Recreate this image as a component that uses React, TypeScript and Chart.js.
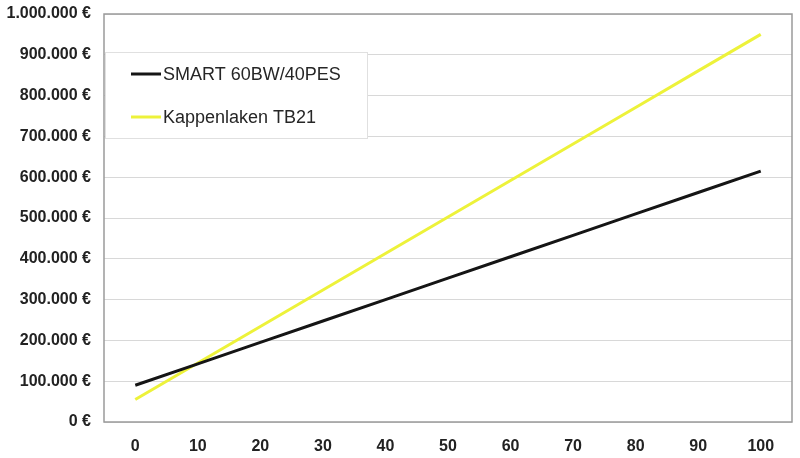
import React, { useEffect, useRef } from "react";
import { Chart, registerables } from "chart.js";

Chart.register(...registerables);

const categories = ["0", "10", "20", "30", "40", "50", "60", "70", "80", "90", "100"];
const smartValues = [90000, 142500, 195000, 247500, 300000, 352500, 405000, 457500, 510000, 562500, 615000];
const kappenValues = [55000, 144500, 234000, 323500, 413000, 502500, 592000, 681500, 771000, 860500, 950000];
const seriesNames = ["SMART 60BW/40PES", "Kappenlaken TB21"];
const seriesColors = ["#151515", "#edf23a"];

function formatEuro(v: number): string {
  const s = Math.round(v).toString().replace(/\B(?=(\d{3})+(?!\d))/g, ".");
  return s + " €";
}

const framePlugin = {
  id: "frameAndLegend",
  afterDraw(chart: any) {
    const { ctx, chartArea } = chart;
    ctx.save();
    // plot border
    ctx.strokeStyle = "#9a9a9a";
    ctx.lineWidth = 1.5;
    ctx.strokeRect(chartArea.left, chartArea.top, chartArea.right - chartArea.left, chartArea.bottom - chartArea.top);
    // legend box
    const bx = chartArea.left + 1.5;
    const by = 52.5;
    const bw = 262;
    const bh = 86;
    ctx.fillStyle = "#ffffff";
    ctx.fillRect(bx, by, bw, bh);
    ctx.strokeStyle = "#e0e0e0";
    ctx.lineWidth = 1;
    ctx.strokeRect(bx, by, bw, bh);
    ctx.font = "18px 'Liberation Sans', Arial, sans-serif";
    ctx.textBaseline = "middle";
    ctx.textAlign = "left";
    chart.data.datasets.forEach((ds: any, i: number) => {
      const y = 74 + i * 43;
      ctx.strokeStyle = ds.borderColor;
      ctx.lineWidth = 3;
      ctx.beginPath();
      ctx.moveTo(131, y);
      ctx.lineTo(161, y);
      ctx.stroke();
      ctx.fillStyle = "#262626";
      ctx.fillText(ds.label, 163, y + 1);
    });
    ctx.restore();
  },
};

export default function App() {
  const ref = useRef<HTMLCanvasElement>(null);
  useEffect(() => {
    if (!ref.current) return;
    const chart = new Chart(ref.current, {
      type: "line",
      data: {
        labels: categories,
        datasets: [
          {
            label: seriesNames[0],
            data: smartValues,
            borderColor: seriesColors[0],
            backgroundColor: seriesColors[0],
            borderWidth: 3,
            pointRadius: 0,
            tension: 0,
          },
          {
            label: seriesNames[1],
            data: kappenValues,
            borderColor: seriesColors[1],
            backgroundColor: seriesColors[1],
            borderWidth: 3,
            pointRadius: 0,
            tension: 0,
          },
        ],
      },
      options: {
        animation: false,
        responsive: false,
        layout: { padding: { top: 14, right: 8, left: 0, bottom: 0 } },
        plugins: { legend: { display: false }, tooltip: { enabled: false } },
        scales: {
          x: {
            type: "category",
            offset: true,
            grid: { display: false, drawTicks: false },
            border: { display: false },
            ticks: {
              padding: 15,
              color: "#222",
              font: { family: "'Liberation Sans', Arial, sans-serif", size: 16, weight: "bold" },
              maxRotation: 0,
              autoSkip: false,
            },
            afterFit(scale: any) {
              scale.height = 36;
              scale.paddingLeft = 0;
              scale.paddingRight = 0;
            },
          },
          y: {
            min: 0,
            max: 1000000,
            grid: { color: "#d8d8d8", lineWidth: 1, drawTicks: false },
            border: { display: false },
            ticks: {
              stepSize: 100000,
              padding: 13,
              color: "#222",
              font: { family: "'Liberation Sans', Arial, sans-serif", size: 16, weight: "bold" },
              callback: (v: any) => formatEuro(Number(v)),
            },
            afterFit(scale: any) {
              scale.width = 104;
              scale.paddingTop = 0;
              scale.paddingBottom = 0;
            },
          },
        },
      },
      plugins: [framePlugin],
    });
    return () => chart.destroy();
  }, []);
  return (
    <div style={{ position: "fixed", left: 0, top: 0, width: 800, height: 458, background: "#fff" }}>
      <canvas ref={ref} width={800} height={458} style={{ width: 800, height: 458, display: "block" }} />
    </div>
  );
}
